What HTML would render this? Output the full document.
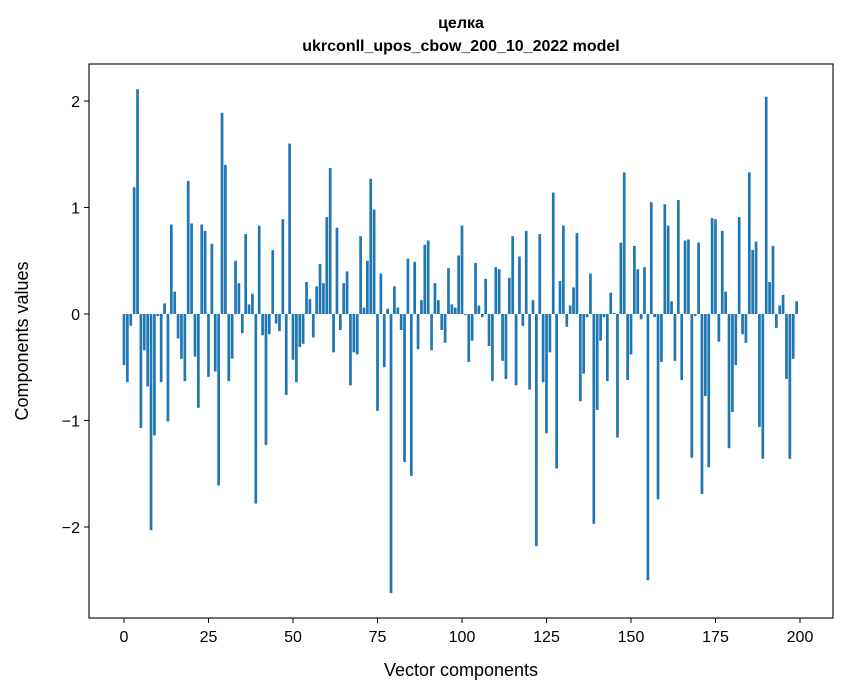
<!DOCTYPE html>
<html><head><meta charset="utf-8"><style>
html,body{margin:0;padding:0;background:#fff;}
svg{display:block;font-family:"Liberation Sans","DejaVu Sans",sans-serif;}
</style></head><body>
<svg id="chart" width="847" height="696" viewBox="0 0 847 696" xmlns="http://www.w3.org/2000/svg">
<rect width="847" height="696" fill="#fff"/>
<text x="461" y="28" text-anchor="middle" font-size="16" font-weight="bold">целка</text>
<text x="461" y="51" text-anchor="middle" font-size="16" font-weight="bold">ukrconll_upos_cbow_200_10_2022 model</text>
<g id="bars"></g>
<g id="xticks"></g>
<g id="yticks"></g>
<rect x="89" y="64" width="744" height="554" fill="none" stroke="#000" stroke-width="1.1"/>
<text x="461" y="676" text-anchor="middle" font-size="18">Vector components</text>
<text transform="translate(28,341) rotate(-90)" text-anchor="middle" font-size="18">Components values</text>
</svg>
<script>
const values = [
-0.48,-0.64,-0.11,1.19,2.11,-1.07,-0.34,-0.68,-2.03,-1.14,
-0.02,-0.64,0.10,-1.01,0.84,0.21,-0.23,-0.42,-0.63,1.25,
0.85,-0.40,-0.88,0.84,0.78,-0.59,0.66,-0.54,-1.61,1.89,
1.40,-0.63,-0.42,0.50,0.29,-0.18,0.75,0.09,0.19,-1.78,
0.83,-0.20,-1.23,-0.19,0.60,-0.09,-0.16,0.89,-0.76,1.60,
-0.43,-0.64,-0.31,-0.28,0.30,0.14,-0.22,0.26,0.47,0.29,
0.91,1.37,-0.36,0.81,-0.15,0.29,0.40,-0.67,-0.36,-0.38,
0.73,0.06,0.50,1.27,0.98,-0.91,0.38,-0.50,0.05,-2.62,
0.26,0.06,-0.15,-1.39,0.52,-1.52,0.49,-0.33,0.13,0.65,
0.69,-0.34,0.29,0.13,-0.15,-0.27,0.43,0.09,0.06,0.55,
0.83,-0.01,-0.45,-0.25,0.48,0.08,-0.03,0.33,-0.30,-0.63,
0.44,0.42,-0.44,-0.61,0.34,0.73,-0.67,0.54,-0.11,0.78,
-0.71,0.13,-2.18,0.75,-0.64,-1.12,-0.36,1.14,-1.45,0.31,
0.83,-0.12,0.08,0.25,0.76,-0.82,-0.56,-0.03,0.38,-1.97,
-0.90,-0.25,-0.03,-0.63,0.20,0.01,-1.16,0.67,1.33,-0.62,
-0.38,0.64,0.42,-0.05,0.44,-2.50,1.05,-0.03,-1.74,-0.45,
1.03,0.83,0.12,-0.44,1.07,-0.62,0.69,0.70,-1.35,-0.02,
0.67,-1.69,-0.77,-1.44,0.90,0.89,-0.26,0.78,0.21,-1.26,
-0.92,-0.48,0.91,-0.19,-0.27,1.33,0.60,0.68,-1.06,-1.36,
2.04,0.30,0.64,-0.13,0.08,0.18,-0.61,-1.36,-0.42,0.12
];
const xTickValues = [0,25,50,75,100,125,150,175,200];
const yTickValues = [-2,-1,0,1,2];
const yTickLabels = ["\u22122","\u22121","0","1","2"];

const NS="http://www.w3.org/2000/svg";
function xScale(v){return 124 + (800-124)*v/200;}
function yScale(v){return 314 - 106.5*v;}
const bw = 0.8*(xScale(1)-xScale(0));
const gb=document.getElementById('bars');
values.forEach((v,i)=>{
  const r=document.createElementNS(NS,'rect');
  const y0=yScale(0), y1=yScale(v);
  r.setAttribute('x',xScale(i)-bw/2);
  r.setAttribute('y',Math.min(y0,y1));
  r.setAttribute('width',bw);
  r.setAttribute('height',Math.max(Math.abs(y1-y0),0.5));
  r.setAttribute('fill','#1f77b4');
  
  
  gb.appendChild(r);
});
const gx=document.getElementById('xticks');
xTickValues.forEach(t=>{
  const x=xScale(t);
  const l=document.createElementNS(NS,'line');
  l.setAttribute('x1',x);l.setAttribute('x2',x);l.setAttribute('y1',618);l.setAttribute('y2',623);
  l.setAttribute('stroke','#000');
  
  
  gx.appendChild(l);
  const tx=document.createElementNS(NS,'text');
  tx.setAttribute('x',x);tx.setAttribute('y',642);tx.setAttribute('text-anchor','middle');tx.setAttribute('font-size','16');
  tx.textContent=t;
  
  
  gx.appendChild(tx);
});
const gy=document.getElementById('yticks');
yTickValues.forEach((t,i)=>{
  const y=yScale(t);
  const l=document.createElementNS(NS,'line');
  l.setAttribute('x1',84);l.setAttribute('x2',89);l.setAttribute('y1',y);l.setAttribute('y2',y);
  l.setAttribute('stroke','#000');
  
  
  gy.appendChild(l);
  const tx=document.createElementNS(NS,'text');
  tx.setAttribute('x',80);tx.setAttribute('y',y+6);tx.setAttribute('text-anchor','end');tx.setAttribute('font-size','16');
  tx.textContent=yTickLabels[i];
  
  
  gy.appendChild(tx);
});
</script>
</body></html>
